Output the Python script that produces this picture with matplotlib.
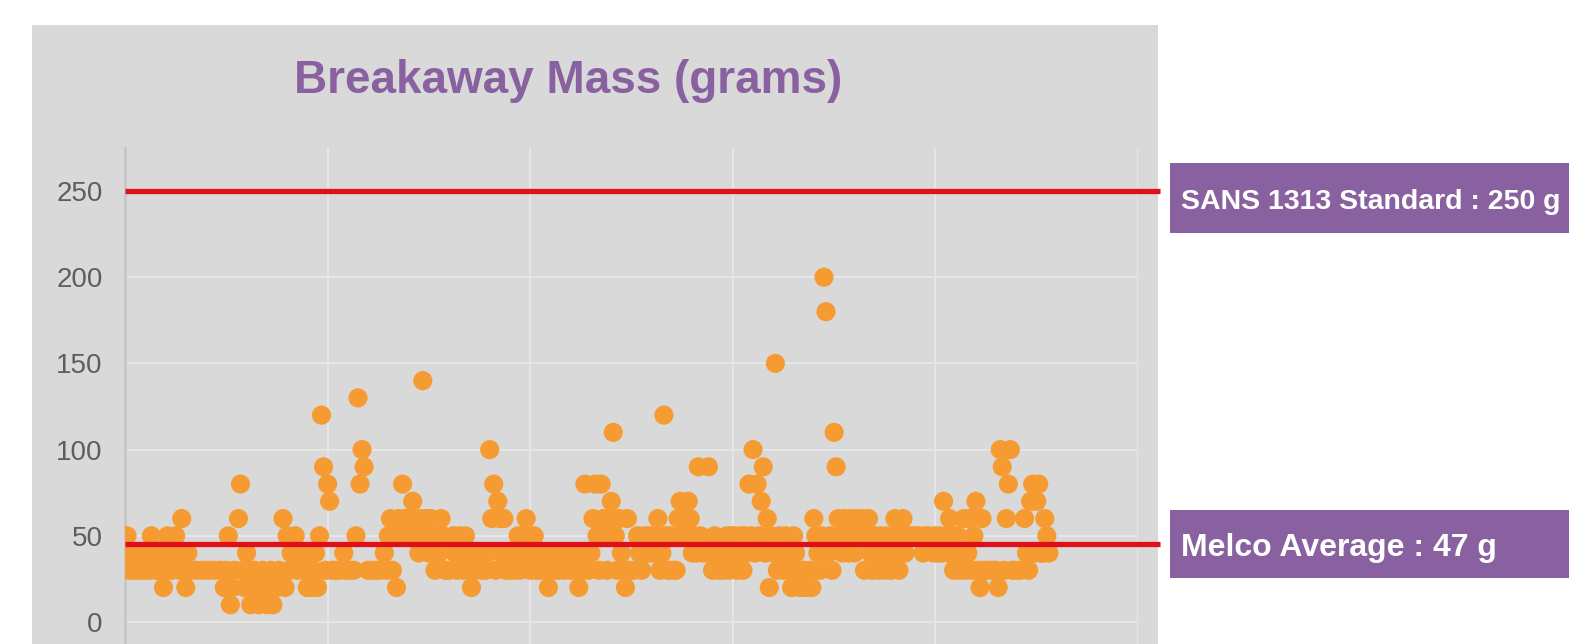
import matplotlib
matplotlib.use("Agg")
import matplotlib.pyplot as plt
from matplotlib.patches import Rectangle

# ---------------- data ----------------
title = "Breakaway Mass (grams)"
y_ticks = [0, 50, 100, 150, 200, 250]
standard_g = 250
average_line_g = 45
standard_label = "SANS 1313 Standard : 250 g"
average_label = "Melco Average : 47 g"

sample_id = [
    0, 1, 2, 3, 4, 5, 6, 7, 8, 9, 10, 11, 12, 13, 14, 15, 16, 17, 18, 19,
    20, 21, 22, 23, 24, 25, 26, 27, 28, 29, 30, 31, 32, 35, 38, 41, 44, 47, 49, 50,
    51, 52, 53, 54, 56, 57, 58, 59, 60, 61, 62, 63, 64, 66, 67, 68, 70, 71, 72, 73,
    75, 76, 78, 79, 80, 81, 82, 84, 85, 86, 88, 89, 90,
    91, 92, 93, 94, 95, 96, 97, 98, 99, 100, 101, 102, 104, 106, 108, 109, 111, 113, 114, 115,
    116, 117, 118, 120, 122, 124, 126, 128, 129, 130, 131, 132, 133, 134, 135, 136, 137, 138, 139, 140,
    141, 142, 143, 144, 145, 146, 147, 148, 149, 150, 151, 152,
    153, 155, 156, 157, 158, 160, 162, 163, 164, 165, 166, 167, 168, 169, 170, 171, 172, 173, 174, 176,
    177, 178, 179, 180, 181, 182, 183, 184, 185, 186, 187, 188, 189, 190, 191, 192, 193, 194, 195, 196,
    197, 198, 199, 200, 201, 202, 203, 204, 205, 207, 208, 209, 210, 211, 213, 214, 216, 217, 219, 220,
    222, 223, 224, 225, 226, 227,
    228, 229, 230, 231, 232, 233, 234, 235, 236, 237, 238, 239, 240, 241, 242, 243, 244, 245, 246, 247,
    248, 249, 251, 253, 254, 255, 256, 257, 258, 259, 260, 261, 262, 263, 264, 265, 266, 267, 268, 269,
    270, 272, 273, 274, 275, 276, 277, 278, 279, 280, 281, 282, 283, 284, 285, 287, 288, 289, 290, 291,
    292, 293, 294, 295, 296, 297, 298, 299, 300, 301, 302, 303, 304,
    305, 306, 307, 308, 309, 310, 311, 312, 313, 314, 315, 316, 317, 318, 319, 320, 321, 322, 323, 324,
    325, 326, 327, 328, 329, 330, 331, 332, 333, 335, 336, 338, 339, 340, 341, 342, 343, 344, 345, 346,
    347, 348, 349, 350, 351, 352, 353, 354, 355, 356, 357, 358, 359, 360, 361, 362, 364, 365, 366, 367,
    368, 369, 370, 371, 372, 373, 374, 375, 376, 377, 378, 379, 380,
    381, 382, 383, 384, 385, 386, 388, 390, 392, 394, 395, 397, 399, 400, 401, 402, 403, 404, 405, 406,
    407, 408, 409, 410, 411, 412, 413, 414, 415, 416, 417, 418, 419, 420, 421, 422, 423, 424, 426, 428,
    430, 431, 432, 433, 434, 435, 436, 437, 438, 440, 442, 444, 445, 446, 447, 448, 449, 450, 451, 452,
    453, 454, 455, 456,
]

mass_g = [
    40, 50, 30, 40, 30, 40, 30, 40, 30, 40, 30, 40, 30, 50, 40, 30, 40, 30, 40, 20,
    30, 50, 40, 30, 40, 50, 40, 30, 60, 40, 20, 40, 30, 30, 30, 30, 30, 30, 20, 30,
    50, 10, 20, 30, 60, 80, 30, 20, 40, 30, 10, 20, 30, 10, 20, 30, 10, 20, 30, 10,
    20, 30, 60, 20, 50, 30, 40, 50, 30, 40, 30, 40, 20,
    30, 20, 30, 40, 20, 50, 120, 90, 30, 80, 70, 30, 30, 30, 40, 30, 30, 30, 50, 130,
    80, 100, 90, 30, 30, 30, 30, 40, 30, 50, 60, 30, 50, 20, 60, 50, 80, 60, 50, 60,
    50, 70, 60, 50, 40, 60, 140, 50, 60, 40, 60, 50,
    30, 40, 60, 50, 30, 30, 50, 40, 30, 50, 40, 30, 50, 40, 30, 20, 40, 30, 40, 30,
    40, 30, 40, 100, 60, 80, 30, 70, 60, 40, 60, 30, 40, 30, 40, 30, 40, 50, 30, 50,
    40, 60, 50, 30, 40, 50, 30, 40, 30, 40, 30, 20, 40, 30, 40, 30, 40, 30, 40, 30,
    40, 30, 20, 40, 30, 80,
    40, 30, 40, 60, 80, 50, 30, 80, 60, 50, 30, 60, 70, 110, 50, 30, 60, 40, 30, 20,
    60, 30, 30, 50, 40, 30, 50, 40, 50, 40, 50, 40, 50, 60, 30, 40, 120, 50, 30, 50,
    30, 30, 60, 70, 50, 60, 50, 70, 60, 40, 50, 40, 90, 50, 40, 40, 90, 40, 30, 50,
    40, 30, 40, 30, 40, 50, 30, 50, 40, 50, 30, 40, 50,
    30, 50, 40, 80, 50, 100, 40, 80, 50, 70, 90, 40, 60, 20, 50, 40, 150, 30, 50, 40,
    30, 50, 40, 30, 20, 50, 40, 30, 20, 30, 20, 30, 20, 60, 50, 40, 30, 50, 200, 180,
    40, 50, 30, 110, 90, 60, 50, 40, 60, 50, 40, 60, 50, 40, 60, 50, 60, 30, 50, 60,
    40, 30, 50, 40, 30, 50, 40, 30, 50, 40, 30, 50, 60,
    40, 30, 50, 60, 40, 50, 50, 50, 50, 40, 50, 50, 40, 50, 40, 50, 40, 70, 50, 40,
    60, 50, 30, 40, 50, 30, 40, 60, 30, 40, 60, 30, 50, 70, 30, 20, 60, 30, 30, 30,
    30, 20, 100, 90, 30, 60, 80, 100, 30, 30, 30, 60, 40, 30, 70, 80, 40, 70, 80, 40,
    40, 60, 50, 40,
]

# ---------------- layout helpers ----------------
W, H = 1569, 644
def fx(px):
    return px / W
def fy(py):
    return 1 - py / H

purple = "#8961A0"
orange = "#F59B31"
red = "#E0101A"
panel_grey = "#D9D9D9"

fig = plt.figure(figsize=(W / 100, H / 100), dpi=100)
fig.patch.set_facecolor("white")

# grey chart panel (behind everything)
fig.patches.append(Rectangle((fx(32), fy(644)), fx(1158) - fx(32), fy(25) - fy(644),
                             transform=fig.transFigure, facecolor=panel_grey,
                             edgecolor="none", zorder=-5))

# axes: 250 at y=191 px, 0 at y=622 px
ppu = (622 - 191) / 250.0
y_bot = (622 - 644) / ppu
y_top = (622 - 148) / ppu
ax = fig.add_axes([fx(125), fy(644), fx(1138) - fx(125), fy(148) - fy(644)])
ax.set_zorder(2)
ax.set_facecolor("none")
ax.set_xlim(0, 500)
ax.set_ylim(y_bot, y_top)
ax.set_xticks([0, 100, 200, 300, 400, 500])
ax.set_xticklabels([])
ax.set_yticks(y_ticks)
ax.set_yticklabels([str(t) for t in y_ticks], fontsize=20, color="#5E5E5E",
                   family="Liberation Sans")
ax.tick_params(axis="both", length=0, pad=16)
ax.grid(True, color="#E6E6E6", linewidth=1.5, zorder=0)
ax.set_axisbelow(True)
for s in ["top", "right", "bottom"]:
    ax.spines[s].set_visible(False)
ax.spines["left"].set_color("#C4C4C4")
ax.spines["left"].set_linewidth(1.8)

ax.scatter(sample_id, mass_g, s=190, color=orange, edgecolors="none", zorder=3)

xr = (1160 - 125) / (1138 - 125)
for yv in (standard_g, average_line_g):
    ax.plot([0, xr], [yv, yv], transform=ax.get_yaxis_transform(), color=red,
            linewidth=3.8, solid_capstyle="butt", clip_on=False, zorder=5)

# title
fig.text(fx(568), fy(93), title, ha="center", va="baseline", fontsize=33,
         fontweight="bold", color=purple, family="Liberation Sans")

# annotation boxes
fig.patches.append(Rectangle((fx(1170), fy(233)), fx(1569) - fx(1170), fy(163) - fy(233),
                             transform=fig.transFigure, facecolor=purple,
                             edgecolor="none", zorder=1))
fig.patches.append(Rectangle((fx(1170), fy(578)), fx(1569) - fx(1170), fy(510) - fy(578),
                             transform=fig.transFigure, facecolor=purple,
                             edgecolor="none", zorder=1))
fig.text(fx(1181), fy(209), standard_label, ha="left", va="baseline", fontsize=20.5,
         fontweight="bold", color="white", family="Liberation Sans")
fig.text(fx(1181), fy(556), average_label, ha="left", va="baseline", fontsize=23,
         fontweight="bold", color="white", family="Liberation Sans")

fig.savefig("out.png", dpi=100)
